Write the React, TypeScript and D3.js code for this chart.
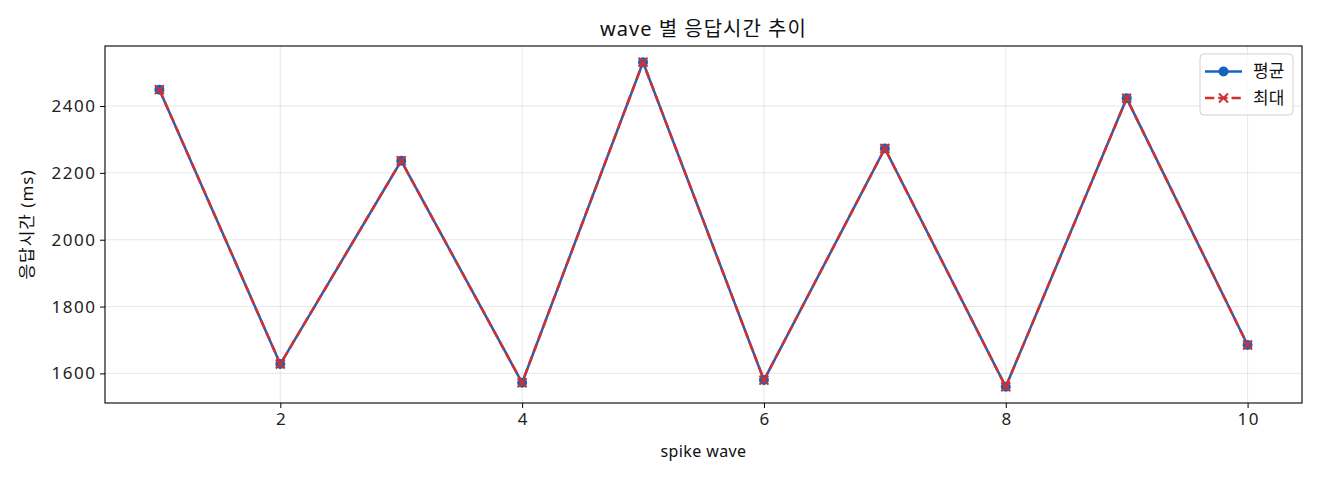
import React, { useEffect, useRef } from 'react';
import * as d3 from 'd3';

const waves = [1, 2, 3, 4, 5, 6, 7, 8, 9, 10];
const avgMs = [2449, 1628, 2236, 1572, 2531, 1580, 2273, 1560, 2423, 1685];
const maxMs = [2449, 1628, 2236, 1572, 2531, 1580, 2273, 1560, 2423, 1685];
const xTicks = [2, 4, 6, 8, 10];
const yTicks = [1600, 1800, 2000, 2200, 2400];

const BLUE = '#1565c0';
const RED = '#d32f2f';
const FONT = '"Noto Sans", "Noto Sans CJK KR", sans-serif';

const App: React.FC = () => {
  const svgRef = useRef<SVGSVGElement>(null);

  useEffect(() => {
    if (!svgRef.current) return;
    const svg = d3.select(svgRef.current);
    svg.selectAll('*').remove();

    const margin = { top: 46, right: 18, bottom: 77, left: 105 };
    const W = 1320, H = 480;
    const width = W - margin.left - margin.right;
    const height = H - margin.top - margin.bottom;

    const lo = d3.min(avgMs.concat(maxMs)) as number;
    const hi = d3.max(avgMs.concat(maxMs)) as number;
    const pad = (hi - lo) * 0.05;
    const x = d3.scaleLinear().domain([0.55, 10.45]).range([0, width]);
    const y = d3.scaleLinear().domain([lo - pad, hi + pad]).range([height, 0]);

    svg.append('rect').attr('width', W).attr('height', H).attr('fill', '#fff');

    const g = svg.append('g').attr('transform', `translate(${margin.left},${margin.top})`);

    // grid
    g.selectAll('.gx').data(xTicks).enter().append('line')
      .attr('x1', d => x(d)).attr('x2', d => x(d))
      .attr('y1', 0).attr('y2', height)
      .attr('stroke', '#b0b0b0').attr('stroke-opacity', 0.3).attr('stroke-width', 1);
    g.selectAll('.gy').data(yTicks).enter().append('line')
      .attr('x1', 0).attr('x2', width)
      .attr('y1', d => y(d)).attr('y2', d => y(d))
      .attr('stroke', '#b0b0b0').attr('stroke-opacity', 0.3).attr('stroke-width', 1);

    // axes
    const xAxis = g.append('g').attr('transform', `translate(0,${height})`)
      .call(d3.axisBottom(x).tickValues(xTicks).tickSize(5).tickPadding(5).tickFormat(d3.format('d')));
    const yAxis = g.append('g')
      .call(d3.axisLeft(y).tickValues(yTicks).tickSize(5).tickPadding(5).tickFormat(d3.format('d')));
    [xAxis, yAxis].forEach(a => {
      a.select('.domain').remove();
      a.selectAll('line').attr('stroke', '#000').attr('stroke-width', 1);
      a.selectAll('text').attr('fill', '#222').style('font-size', '17px')
        .style('font-family', FONT).style('letter-spacing', '1.5px');
    });
    yAxis.selectAll('text').attr('dx', '1.5px');
    xAxis.selectAll('text').attr('dx', '0.75px');

    g.append('rect').attr('width', width).attr('height', height)
      .attr('fill', 'none').attr('stroke', '#000').attr('stroke-width', 1.1);

    const line = d3.line<number>().x((_, i) => x(waves[i])).y(d => y(d));

    // 평균
    g.append('path').datum(avgMs).attr('d', line)
      .attr('fill', 'none').attr('stroke', BLUE).attr('stroke-width', 2.5);
    g.selectAll('.pt').data(avgMs).enter().append('circle')
      .attr('cx', (_, i) => x(waves[i])).attr('cy', d => y(d)).attr('r', 5).attr('fill', BLUE);

    // 최대
    g.append('path').datum(maxMs).attr('d', line)
      .attr('fill', 'none').attr('stroke', RED).attr('stroke-width', 2.5)
      .attr('stroke-dasharray', '9.25,4');
    const cross = (sel: any, cx: number, cy: number) => {
      const s = 4.5;
      sel.append('path')
        .attr('d', `M${cx - s},${cy - s}L${cx + s},${cy + s}M${cx - s},${cy + s}L${cx + s},${cy - s}`)
        .attr('stroke', RED).attr('stroke-width', 2);
    };
    maxMs.forEach((d, i) => cross(g, x(waves[i]), y(d)));

    // title and labels
    svg.append('text').attr('x', margin.left + width / 2).attr('y', 36)
      .attr('text-anchor', 'middle').style('font-size', '20px').style('font-family', FONT)
      .style('letter-spacing', '1px').attr('fill', '#111')
      .text('wave 별 응답시간 추이');
    svg.append('text').attr('x', margin.left + width / 2).attr('y', 457)
      .attr('text-anchor', 'middle').style('font-size', '16px').style('font-family', FONT)
      .style('letter-spacing', '0.4px').attr('fill', '#111')
      .text('spike wave');
    svg.append('text')
      .attr('transform', `translate(33,${margin.top + height / 2}) rotate(-90)`)
      .attr('text-anchor', 'middle').style('font-size', '17px').style('font-family', FONT)
      .style('letter-spacing', '1px').attr('fill', '#111')
      .text('응답시간 (ms)');

    // legend
    const lg = svg.append('g').attr('transform', 'translate(1200,54)');
    lg.append('rect').attr('width', 93).attr('height', 61).attr('rx', 4)
      .attr('fill', '#fff').attr('fill-opacity', 0.8).attr('stroke', '#d0d0d0');
    lg.append('line').attr('x1', 5).attr('x2', 42).attr('y1', 17.5).attr('y2', 17.5)
      .attr('stroke', BLUE).attr('stroke-width', 2.5);
    lg.append('circle').attr('cx', 23.5).attr('cy', 17.5).attr('r', 5).attr('fill', BLUE);
    lg.append('line').attr('x1', 5).attr('x2', 42).attr('y1', 44).attr('y2', 44)
      .attr('stroke', RED).attr('stroke-width', 2.5).attr('stroke-dasharray', '9.25,4');
    cross(lg, 23.5, 44);
    lg.append('text').attr('x', 53).attr('y', 23).style('font-size', '17px').style('font-family', FONT).attr('fill', '#111').text('평균');
    lg.append('text').attr('x', 53).attr('y', 50).style('font-size', '17px').style('font-family', FONT).attr('fill', '#111').text('최대');
  }, []);

  return <svg ref={svgRef} width={1320} height={480} style={{ display: 'block', margin: '-8px' }} />;
};

export default App;
